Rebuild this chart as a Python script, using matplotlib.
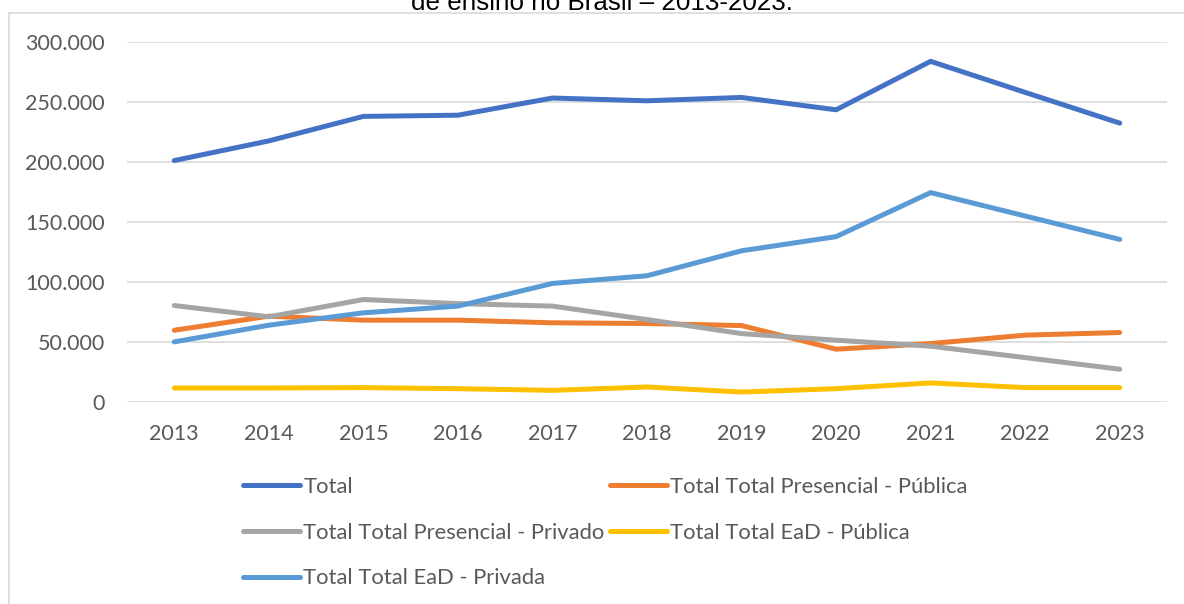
import matplotlib
matplotlib.use("Agg")
import matplotlib.pyplot as plt
from matplotlib.patches import Rectangle
from matplotlib.ticker import FuncFormatter

anos = ["2013", "2014", "2015", "2016", "2017", "2018", "2019", "2020", "2021", "2022", "2023"]

total = [201200, 217600, 238000, 239000, 253300, 251000, 253800, 243500, 283900, 258000, 232400]
presencial_publica = [59800, 71500, 68200, 68200, 66000, 65400, 63700, 44000, 48700, 55700, 57900]
presencial_privado = [80400, 71000, 85400, 82000, 79900, 68700, 57000, 51500, 46500, 37000, 27300]
ead_publica = [11700, 11700, 12000, 11100, 9700, 12500, 8300, 11100, 15900, 12000, 12000]
ead_privada = [50100, 64000, 74300, 79900, 98800, 105200, 126000, 137800, 174500, 155000, 135500]

series = [
    ("Total", total, "#4472C4"),
    ("Total Total Presencial - Pública", presencial_publica, "#ED7D31"),
    ("Total Total Presencial - Privado", presencial_privado, "#A5A5A5"),
    ("Total Total EaD - Pública", ead_publica, "#FFC000"),
    ("Total Total EaD - Privada", ead_privada, "#5B9BD5"),
]

plt.rcParams["font.family"] = ["Lato", "DejaVu Sans"]

fig = plt.figure(figsize=(11.84, 6.04), dpi=100, facecolor="white")
ax = fig.add_axes([127 / 1184, 1 - 402 / 604, 1040 / 1184, 360 / 604])

# moldura da área do gráfico (cortada pela imagem)
fig.patches.append(Rectangle((9 / 1184, -0.1), 1.2, 1 - 13 / 604 + 0.1, transform=fig.transFigure,
                             fill=False, edgecolor="#D9D9D9", linewidth=1.2))

fig.text(0.508, 1 - 10 / 604, "de ensino no Brasil – 2013-2023.", ha="center", va="baseline",
         fontsize=18.7, color="black", family=["Liberation Sans", "DejaVu Sans"])

x = list(range(len(anos)))
linhas = []
for nome, valores, cor in series:
    l, = ax.plot(x, valores, color=cor, linewidth=3.6, solid_capstyle="round",
                 solid_joinstyle="round", label=nome)
    linhas.append(l)

ax.set_xlim(-0.5, len(anos) - 0.5)
ax.set_ylim(0, 300000)
ax.set_yticks(range(0, 300001, 50000))
ax.yaxis.set_major_formatter(FuncFormatter(lambda v, p: f"{int(v):,}".replace(",", ".")))
ax.set_xticks(x)
ax.set_xticklabels(anos)
ax.grid(axis="y", color="#D9D9D9", linewidth=1.2)
ax.set_axisbelow(True)
for s in ax.spines.values():
    s.set_visible(False)
ax.tick_params(length=0, labelsize=15.5, colors="#595959")
ax.tick_params(axis="y", pad=16)
ax.tick_params(axis="x", pad=16)

# ordem por linhas, como no Excel
ordem = [0, 2, 4, 1, 3]
leg = fig.legend([linhas[i] for i in ordem], [series[i][0] for i in ordem],
                 loc="upper left", bbox_to_anchor=(243 / 1184, 1 - 477 / 604), ncol=2,
                 frameon=False, fontsize=15.8, handlelength=2.6, handletextpad=0.15,
                 columnspacing=0.25, labelspacing=1.17, labelcolor="#595959",
                 borderaxespad=0, borderpad=0)

fig.savefig("out.png", dpi=100, facecolor="white")
